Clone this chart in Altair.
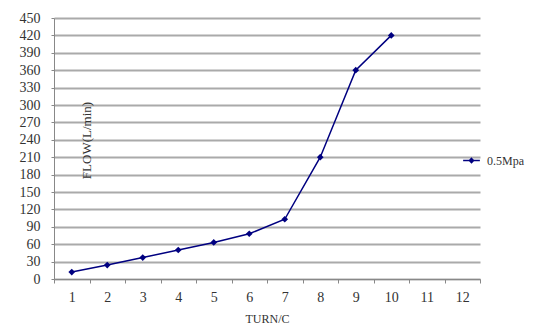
import altair as alt
import pandas as pd

turns = [1, 2, 3, 4, 5, 6, 7, 8, 9, 10]
flow = [12, 24, 37, 50, 63, 78, 103, 210, 360, 420]
series = "0.5Mpa"
x_domain = list(range(1, 13))
y_ticks = list(range(0, 451, 30))

df = pd.DataFrame({"turn": turns, "flow": flow, "series": [series] * len(turns)})

font = "Liberation Serif"
navy = "#000080"

base = alt.Chart(df).encode(
    x=alt.X("turn:O", bandPosition=0.5,
            scale=alt.Scale(type="band", domain=x_domain, paddingInner=0, paddingOuter=0),
            axis=alt.Axis(title="TURN/C", labelAngle=0, tickBand="extent", grid=False,
                          labelFont=font, labelFontSize=14, labelColor="#333333",
                          titleFont=font, titleFontSize=12, titleFontWeight="normal",
                          titleColor="#333333", labelPadding=7, titlePadding=9,
                          domainColor="#888888", tickColor="#888888", tickSize=4)),
    y=alt.Y("flow:Q", scale=alt.Scale(domain=[0, 450], nice=False),
            axis=alt.Axis(title="FLOW(L/min)", values=y_ticks, grid=True,
                          gridColor="#aaaaaa", gridWidth=1.8,
                          labelFont=font, labelFontSize=14, labelColor="#333333",
                          titleFont=font, titleFontSize=13, titleFontWeight="normal",
                          titleColor="#333333", titleX=32, titleY=122, titleAngle=-90,
                          titleAlign="center", titleBaseline="middle",
                          domainColor="#888888", tickColor="#888888", tickSize=3,
                          labelPadding=11, labelBaseline="middle")),
    color=alt.Color("series:N", scale=alt.Scale(range=[navy]),
                    legend=alt.Legend(title=None, orient="none", legendX=408, legendY=133,
                                      symbolType="M-1,0H1M0,-0.25L0.25,0L0,0.25L-0.25,0Z",
                                      symbolSize=280, symbolStrokeWidth=1.5,
                                      symbolFillColor=navy, labelFont=font,
                                      labelFontSize=12, labelColor="#333333",
                                      labelOffset=6)),
)

line = base.mark_line(strokeWidth=1.5, point=alt.OverlayMarkDef(shape="diamond", filled=True, size=45, color=navy))

chart = line.properties(
    width=426, height=261,
    autosize=alt.AutoSizeParams(type="none"),
    padding={"left": 46, "top": 10, "right": 56, "bottom": 52},
).configure_view(stroke=None)

chart.save("out.html", embed_options={"renderer": "svg", "actions": False})
